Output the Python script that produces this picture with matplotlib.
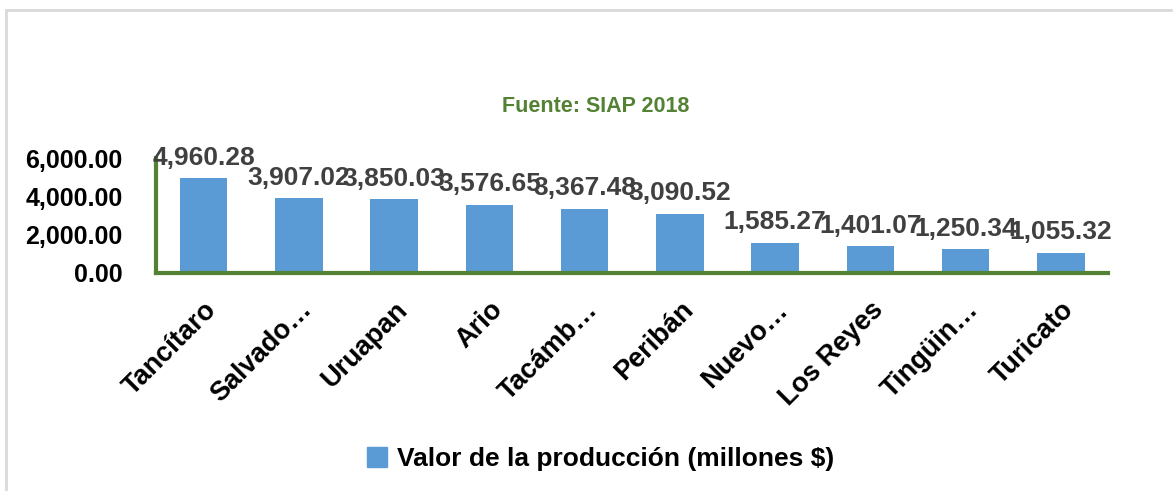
import matplotlib.pyplot as plt
from matplotlib.patches import Rectangle
from matplotlib.ticker import FuncFormatter

# Data
municipios = ['Tancítaro', 'Salvado…', 'Uruapan', 'Ario', 'Tacámb…',
              'Peribán', 'Nuevo…', 'Los Reyes', 'Tingüin…', 'Turicato']
valores = [4960.28, 3907.02, 3850.03, 3576.65, 3367.48,
           3090.52, 1585.27, 1401.07, 1250.34, 1055.32]
serie = 'Valor de la producción (millones $)'
fuente = 'Fuente: SIAP 2018'

plt.rcParams['font.family'] = ['Liberation Sans Narrow', 'Liberation Sans', 'DejaVu Sans']
plt.rcParams['font.weight'] = 'bold'

bar_color = '#5B9BD5'
green = '#548235'

fig = plt.figure(figsize=(11.73, 4.91), dpi=100)
ax = fig.add_axes([0.133, 0.444, 0.812, 0.234])

# light gray chart frame (cropped at right and bottom)
fig.patches.append(Rectangle((6 / 1173, -0.1), 1.2, 1 - 10 / 491 + 0.1,
                             transform=fig.transFigure, fill=False,
                             edgecolor='#D9D9D9', linewidth=2))

x = range(len(municipios))
bars = ax.bar(x, valores, width=0.5, color=bar_color)
ax.set_xlim(-0.5, len(municipios) - 0.5)
ax.set_ylim(0, 6000)
ax.set_yticks([0, 2000, 4000, 6000])
ax.yaxis.set_major_formatter(FuncFormatter(lambda v, _: f'{v:,.2f}'))

for b, v in zip(bars, valores):
    ax.annotate(f'{v:,.2f}', (b.get_x() + b.get_width() / 2, v),
                xytext=(0, 6), textcoords='offset points',
                ha='center', va='bottom', fontsize=19, color='#404040',
                fontweight='bold')

ax.set_xticks(list(x))
ax.set_xticklabels(municipios, rotation=45, ha='right', rotation_mode='anchor',
                   fontsize=19.5, fontweight='bold')
ax.tick_params(axis='x', length=0, pad=17)
ax.tick_params(axis='y', length=0, pad=24, labelsize=18)

for s in ['top', 'right']:
    ax.spines[s].set_visible(False)
for s in ['left', 'bottom']:
    ax.spines[s].set_color(green)
    ax.spines[s].set_linewidth(3)

fig.text(0.508, 0.783, fuente, ha='center', va='center', fontsize=15.5,
         color=green, fontweight='bold')

h = [Rectangle((0, 0), 1, 1, color=bar_color)]
fig.legend(h, [serie], loc='center', bbox_to_anchor=(0.512, 0.065),
           frameon=False, fontsize=19, handlelength=0.75, handleheight=0.75,
           handletextpad=0.4)

fig.savefig('out.png', dpi=100)
